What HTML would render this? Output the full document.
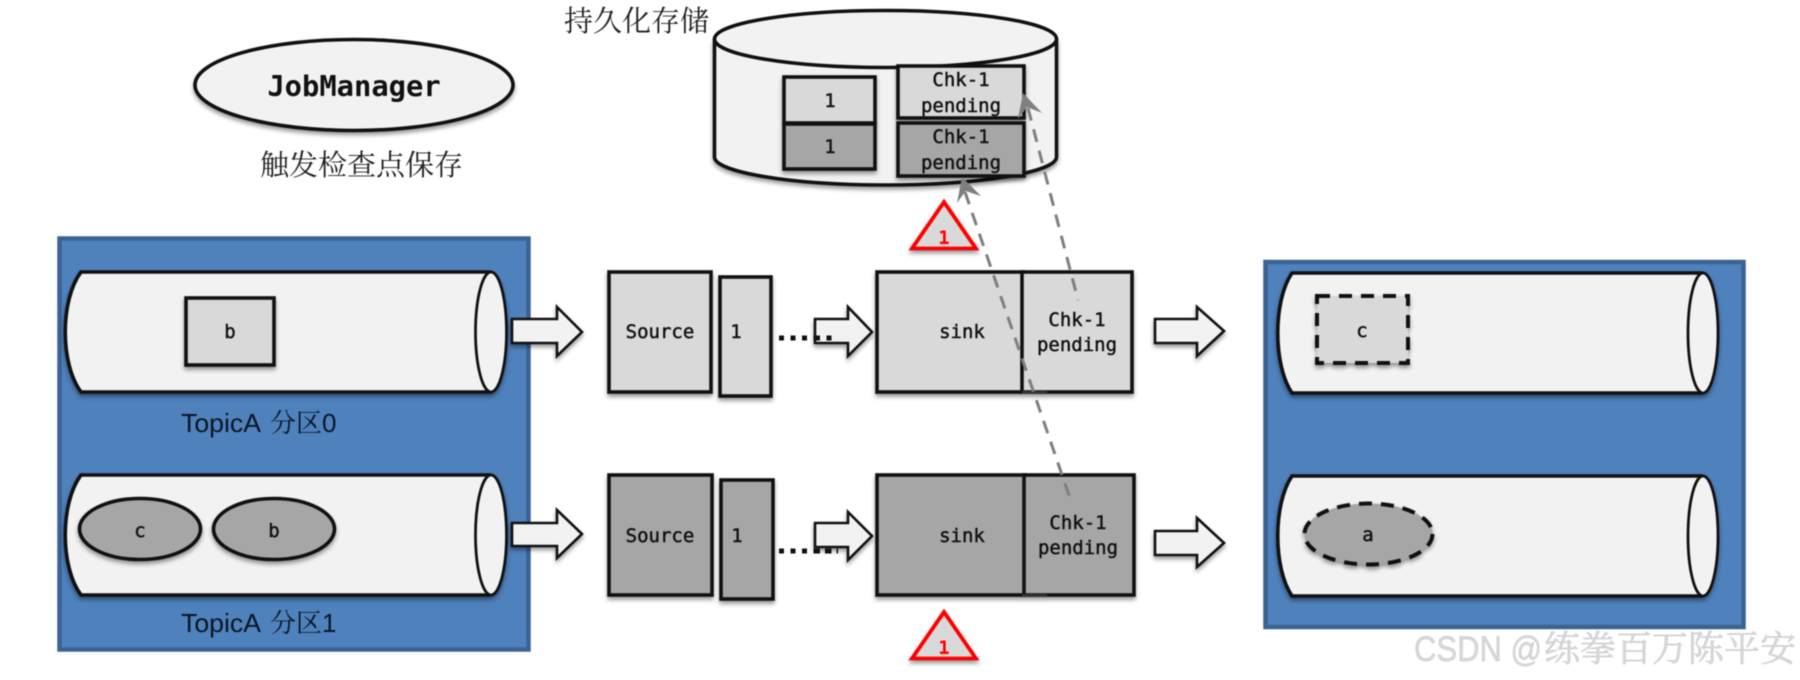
<!DOCTYPE html>
<html>
<head>
<meta charset="utf-8">
<style>
html,body{margin:0;padding:0;background:#fff;width:1800px;height:680px;overflow:hidden}
svg{display:block;filter:blur(.55px)}
.s{filter:drop-shadow(0 3px 2px rgba(0,0,0,.4))}
.m{font-family:"DejaVu Sans Mono","Liberation Mono",monospace;font-size:19px;fill:#111;stroke:#111;stroke-width:.45;text-anchor:middle}
.z{font-family:"Liberation Sans","Noto Serif CJK SC",serif;font-size:29px;fill:#222}
.t{font-family:"Liberation Sans","Noto Serif CJK SC",sans-serif;font-size:26px;fill:#0b1624}
.k{stroke:#111;stroke-width:3.6;fill:#d9d9d9}
.d{stroke:#111;stroke-width:3.6;fill:#a6a6a6}
.a{stroke:#111;stroke-width:2.6;fill:#f2f2f2;stroke-linejoin:miter}
.c{stroke:#111;stroke-width:3.6;fill:#f2f2f2}
.e{stroke:#111;stroke-width:2.8;fill:#f2f2f2}
.b{fill:#4f81bd;stroke:#3b6292;stroke-width:4.5}
.r{fill:#d9d9d9;stroke:#f00;stroke-width:3.8;stroke-linejoin:miter}
.n{font-family:"DejaVu Sans Mono","Liberation Mono",monospace;font-weight:bold;font-size:19px;fill:#f00;text-anchor:middle}
.g{stroke:#7f7f7f;stroke-width:3;stroke-dasharray:13 9;fill:none}
.h{fill:#7f7f7f}
.w{font-family:"Liberation Sans","Noto Serif CJK SC",sans-serif;fill:#d8d8d8;stroke:#c4c4c4;stroke-width:.4}
</style>
</head>
<body>
<svg width="1800" height="680" viewBox="0 0 1800 680" xmlns="http://www.w3.org/2000/svg">
<!-- JobManager -->
<g class="s"><ellipse cx="354" cy="85" rx="159" ry="45.500" fill="#f2f2f2" stroke="#111" stroke-width="3.6"/></g>
<text x="354" y="96" class="m" style="font-size:28.8px;font-weight:bold;stroke-width:0">JobManager</text>
<text x="260" y="175" class="z">触发检查点保存</text>
<text x="564" y="31" class="z">持久化存储</text>

<!-- Database -->
<g class="s"><path class="c" d="M714.5 39 V157 C714.5 172 790 185 885.500 185 S1056.500 172 1056.500 157 V39"/></g>
<ellipse cx="885.500" cy="39" rx="171" ry="28.500" class="c"/>
<g class="s">
<rect x="784" y="77" width="91" height="46" class="k"/>
<rect x="784" y="124" width="91" height="45" class="d"/>
<rect x="898" y="66" width="126" height="52" class="k"/>
<rect x="898" y="123" width="126" height="53" class="d"/>
</g>
<text x="830" y="107" class="m">1</text>
<text x="830" y="153" class="m">1</text>
<text x="961" y="86" class="m">Chk-1</text>
<text x="961" y="112" class="m">pending</text>
<text x="961" y="143" class="m">Chk-1</text>
<text x="961" y="169" class="m">pending</text>

<!-- Left blue panel -->
<rect x="59.500" y="238.500" width="469" height="411" class="b"/>
<g class="s">
<path class="c" d="M491 272 H81 C60 300 60 364 81 392 H491"/>
<ellipse cx="491" cy="332" rx="15.500" ry="60" class="e"/>
<path class="c" d="M491 475 H81 C60 503 60 567 81 595 H491"/>
<ellipse cx="491" cy="535" rx="15.500" ry="60" class="e"/>
</g>
<g class="s">
<rect x="186" y="298" width="88" height="67" class="k"/>
<ellipse cx="140" cy="529" rx="60.500" ry="30.500" class="d"/>
<ellipse cx="274" cy="529" rx="60.500" ry="30.500" class="d"/>
</g>
<text x="230" y="338" class="m">b</text>
<text x="140" y="537" class="m">c</text>
<text x="274" y="537" class="m">b</text>
<text x="181" y="432" class="t"><tspan textLength="80" lengthAdjust="spacingAndGlyphs">TopicA</tspan></text>
<text x="270" y="432" class="t">分区0</text>
<text x="181" y="632" class="t"><tspan textLength="80" lengthAdjust="spacingAndGlyphs">TopicA</tspan></text>
<text x="270" y="632" class="t">分区1</text>

<!-- Left fat arrows -->
<g class="s">
<path class="a" d="M512 319 H557 V307 L582 332 L557 356 V343 H512 Z"/>
<path class="a" d="M512 523 H557 V510 L582 534 L557 558 V546 H512 Z"/>
</g>

<!-- Row 1 -->
<g class="s">
<rect x="609" y="272" width="102" height="120" class="k"/>
<rect x="720" y="277" width="51" height="119" class="k"/>
<rect x="877" y="272" width="147" height="120" class="k"/>
<rect x="1022" y="272" width="110" height="120" class="k"/>
<rect x="1022" y="391" width="25" height="3" fill="#333"/>
</g>
<text x="660" y="338" class="m">Source</text>
<text x="736" y="338" class="m">1</text>
<text x="962" y="338" class="m">sink</text>
<text x="1077" y="326" class="m">Chk-1</text>
<text x="1077" y="351" class="m">pending</text>
<path d="M779 338 H838" stroke="#111" stroke-width="5" stroke-dasharray="5 6.500" fill="none"/>
<g class="s"><path class="a" d="M815 319 H848 V307 L872 332 L848 356 V343 H815 Z"/></g>
<path d="M815 338 H838" stroke="#111" stroke-width="5" stroke-dasharray="5 6.500" fill="none"/>

<!-- Row 2 -->
<g class="s">
<rect x="609" y="475" width="103" height="120" class="d"/>
<rect x="721" y="480" width="52" height="119" class="d"/>
<rect x="877" y="475" width="148" height="120" class="d"/>
<rect x="1024" y="475" width="110" height="120" class="d"/>
<rect x="1022" y="594" width="25" height="3" fill="#333"/>
</g>
<text x="660" y="542" class="m">Source</text>
<text x="737" y="542" class="m">1</text>
<text x="962" y="542" class="m">sink</text>
<text x="1078" y="529" class="m">Chk-1</text>
<text x="1078" y="554" class="m">pending</text>
<path d="M779 551 H838" stroke="#111" stroke-width="5" stroke-dasharray="5 6.500" fill="none"/>
<g class="s"><path class="a" d="M815 523 H848 V512 L872 536 L848 560 V547 H815 Z"/></g>
<path d="M815 551 H838" stroke="#111" stroke-width="5" stroke-dasharray="5 6.500" fill="none"/>

<!-- Triangles -->
<g class="s">
<path class="r" d="M944 202 L976 248.500 H912 Z"/>
<path class="r" d="M944 612 L976 658.500 H912 Z"/>
</g>
<text x="944" y="244" class="n">1</text>
<text x="944" y="654" class="n">1</text>

<!-- Dashed connectors -->
<line x1="965" y1="192" x2="1072" y2="504" class="g"/>
<line x1="1028" y1="108" x2="1078" y2="300" class="g"/>
<path class="h" d="M962 177 L981 196 L965.500 191 L957 203 Z"/>
<path class="h" d="M1023 93 L1042 113 L1027 107 L1018 119 Z"/>

<!-- Output arrows -->
<g class="s">
<path class="a" d="M1155 319 H1197 V307 L1224 331 L1197 356 V343 H1155 Z"/>
<path class="a" d="M1155 531 H1197 V518 L1224 543 L1197 567 V555 H1155 Z"/>
</g>

<!-- Right blue panel -->
<rect x="1265.500" y="262" width="478" height="365" class="b"/>
<g class="s">
<path class="c" d="M1703 273 H1292 C1273 301 1273 365 1292 393 H1703"/>
<ellipse cx="1703" cy="333" rx="15" ry="60" class="e"/>
<path class="c" d="M1703 476 H1292 C1273 504 1273 568 1292 596 H1703"/>
<ellipse cx="1703" cy="536" rx="15" ry="60" class="e"/>
</g>
<g class="s">
<rect x="1317" y="296" width="91" height="67" fill="#d9d9d9" stroke="#111" stroke-width="4" stroke-dasharray="13 9"/>
<ellipse cx="1368.500" cy="534" rx="64" ry="30.500" fill="#a6a6a6" stroke="#111" stroke-width="4" stroke-dasharray="13 9"/>
</g>
<text x="1362" y="337" class="m">c</text>
<text x="1368" y="541" class="m">a</text>

<!-- Watermark -->
<text x="1414" y="661" class="w" font-size="35" textLength="128" lengthAdjust="spacingAndGlyphs">CSDN @</text>
<text x="1544" y="661" class="w" font-size="36">练拳百万陈平安</text>
</svg>
</body>
</html>
